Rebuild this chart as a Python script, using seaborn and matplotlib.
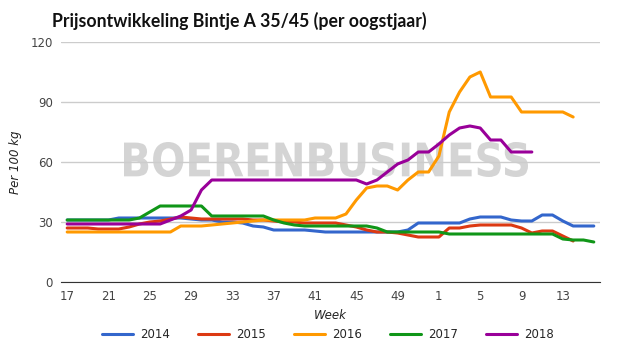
import numpy as np
import pandas as pd
import matplotlib
matplotlib.use("Agg")
import matplotlib.pyplot as plt
import seaborn as sns
from matplotlib.textpath import TextPath
from matplotlib.patches import PathPatch
from matplotlib.font_manager import FontProperties
from matplotlib.transforms import Affine2D

nan = np.nan
weeks = list(range(17, 53)) + list(range(1, 17))
tick_weeks = [17, 21, 25, 29, 33, 37, 41, 45, 49, 1, 5, 9, 13]
years = ["2014", "2015", "2016", "2017", "2018"]
colors = ["#3366cc", "#dc3912", "#ff9900", "#109618", "#990099"]

p2014 = [31, 31, 31, 31, 31, 32, 32, 32, 32, 32, 32, 32,
         31.5, 31, 31, 30, 30, 29.5, 28, 27.5,
         26, 26, 26, 26,
         25.5, 25, 25, 25, 25, 25, 25, 25, 25,
         26, 29.5, 29.5,
         29.5, 29.5, 29.5, 31.5, 32.5, 32.5, 32.5, 31, 30.5, 30.5, 33.5, 33.5, 30.5, 28, 28, 28]
p2015 = [27, 27, 27, 26.5, 26.5, 26.5, 27.5, 29, 30, 30.5, 31.5, 32.5,
         32, 31.5, 31.5, 31.5, 31.5, 31.5, 31, 31,
         30.5, 30, 30, 29.5, 29.5, 29.5,
         29.5, 28.5, 27.5, 26, 25, 25, 24.5, 23.5, 22.5, 22.5,
         22.5, 27, 27, 28, 28.5, 28.5, 28.5, 28.5, 27, 24.5, 25.5, 25.5, 23, 20.5, nan, nan]
p2016 = [25] * 11 + [28, 28, 28, 28.5, 29, 29.5, 30, 30.5, 31,
         31, 31, 31, 31,
         32, 32, 32, 34, 41, 47, 48, 48, 46, 51, 55, 55,
         63, 85, 95, 102.5, 105, 92.5, 92.5, 92.5, 85, 85, 85, 85, 85, 82.5, nan, nan]
p2017 = [31] * 7 + [32, 35, 38, 38, 38, 38, 38,
         33, 33, 33, 33, 33, 33,
         31, 29.5, 28.5,
         28, 28, 28, 28, 28, 28, 28,
         27, 25, 25, 25, 25, 25,
         25] + [24] * 11 + [21.5, 21, 21, 20]
p2018 = [29] * 10 + [31, 33, 36, 46] + [51] * 15 + [49, 51, 55, 59, 61, 65, 65,
         69, 73.5, 77, 78, 77, 71, 71, 65, 65, 65] + [nan] * 6

series = [p2014, p2015, p2016, p2017, p2018]
df = pd.DataFrame({
    "idx": np.tile(np.arange(len(weeks)), len(years)),
    "prijs": np.concatenate(series),
    "jaar": np.repeat(years, len(weeks)),
})

sns.set_style("white")
plt.rcParams["font.family"] = ["DejaVu Sans"]

fig = plt.figure(figsize=(6.25, 3.54), dpi=100)
ax = fig.add_axes([61 / 625, 1 - 282 / 354, 539 / 625, 240 / 354])

# watermark, squeezed into a box (axes fraction)
tp = TextPath((0, 0), "BOERENBUSINESS", size=10, prop=FontProperties(family="DejaVu Sans", weight="bold"))
bb = tp.get_extents()
x0, x1, y0, y1 = 63 / 539, 467 / 539, 105 / 240, 140 / 240
tr = Affine2D().translate(-bb.x0, -bb.y0).scale((x1 - x0) / bb.width, (y1 - y0) / bb.height).translate(x0, y0)
ax.add_patch(PathPatch(tr.transform_path(tp), transform=ax.transAxes, facecolor="#d4d4d4",
                       edgecolor="none", zorder=0))

sns.lineplot(data=df, x="idx", y="prijs", hue="jaar", palette=colors, linewidth=2.2,
             ax=ax, legend=True, zorder=3)

ax.set_xlim(-0.6, 51.6)
ax.set_ylim(0, 120)
ax.set_yticks([0, 30, 60, 90, 120])
ax.set_xticks([weeks.index(w) for w in tick_weeks])
ax.set_xticklabels([str(w) for w in tick_weeks])
ax.grid(axis="y", color="#cccccc", linewidth=1, zorder=1)
ax.set_axisbelow(False)
for s in ["left", "right", "top"]:
    ax.spines[s].set_visible(False)
ax.spines["bottom"].set_color("#333333")
ax.tick_params(axis="both", length=0, labelsize=8.5, labelcolor="#444444", pad=6)
ax.set_xlabel("Week", fontstyle="italic", fontsize=8.5, color="#222222", labelpad=4)
ax.set_ylabel("Per 100 kg", fontstyle="italic", fontsize=8.5, color="#222222", labelpad=6)

handles, labels = ax.get_legend_handles_labels()
ax.legend_.remove()
fig.legend(handles, labels, loc="center", bbox_to_anchor=(0.525, 1 - 335 / 354), ncol=5,
           frameon=False, fontsize=8.5, handlelength=2.6, columnspacing=2.4, handletextpad=0.6)

fig.text(52 / 625, 1 - 21 / 354, "Prijsontwikkeling Bintje A 35/45 (per oogstjaar)",
         fontsize=12.7, fontweight="bold", color="#111111", va="center", ha="left",
         family=["Lato", "DejaVu Sans"])

fig.savefig("out.png", dpi=100)
